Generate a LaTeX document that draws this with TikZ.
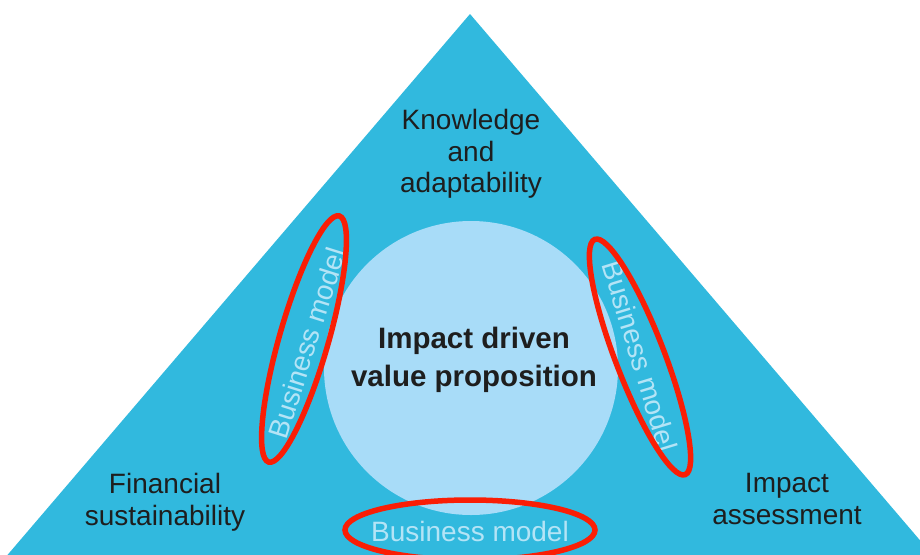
\documentclass[tikz,border=0pt]{standalone}
\usepackage{fontspec}
\setmainfont{Liberation Sans}
\usetikzlibrary{shapes.geometric}
\definecolor{triblue}{RGB}{49,185,222}
\definecolor{circblue}{RGB}{168,220,248}
\definecolor{ringred}{RGB}{250,30,5}
\definecolor{bmtext}{RGB}{180,228,246}
\definecolor{darktext}{RGB}{30,30,30}
\tikzset{
  lbl/.style={align=center, text=darktext, inner sep=0pt, font=\fontsize{28}{31.5}\selectfont},
  bm/.style={text=bmtext, inner sep=0pt, font=\fontsize{28}{31.5}\selectfont},
  ring/.style={draw=ringred, line width=5.5pt, ellipse, inner sep=0pt},
}
\begin{document}
\begin{tikzpicture}[x=1pt,y=-1pt]
\useasboundingbox (0,0) rectangle (920,554);
\clip (0,0) rectangle (920,554);
\fill[triblue] (470,14) -- (983,614) -- (-43,614) -- cycle;
\node[circle, fill=circblue, minimum size=294pt, inner sep=0pt] (core) at (471,368) {};
\node[lbl, font=\bfseries\fontsize{29.5}{38}\selectfont] (vp) at (474,360) {Impact driven\\value proposition};
\node[lbl] (know) at (471,154) {Knowledge\\and\\adaptability};
\node[lbl] (fin) at (165,502.5) {Financial\\sustainability};
\node[lbl] (imp) at (787,499) {Impact\\assessment};
\node[bm, rotate=72.5] (bmL) at (307,343) {Business model};
\node[bm, rotate=-73] (bmR) at (640,356) {Business model};
\node[bm] (bmB) at (470,531) {Business model};
\node[ring, minimum width=256pt, minimum height=49pt, rotate=74] (ringL) at (304,339) {};
\node[ring, minimum width=252pt, minimum height=49pt, rotate=-69] (ringR) at (640,357) {};
\node[ring, minimum width=250pt, minimum height=60pt] (ringB) at (470,530) {};
\end{tikzpicture}
\end{document}
